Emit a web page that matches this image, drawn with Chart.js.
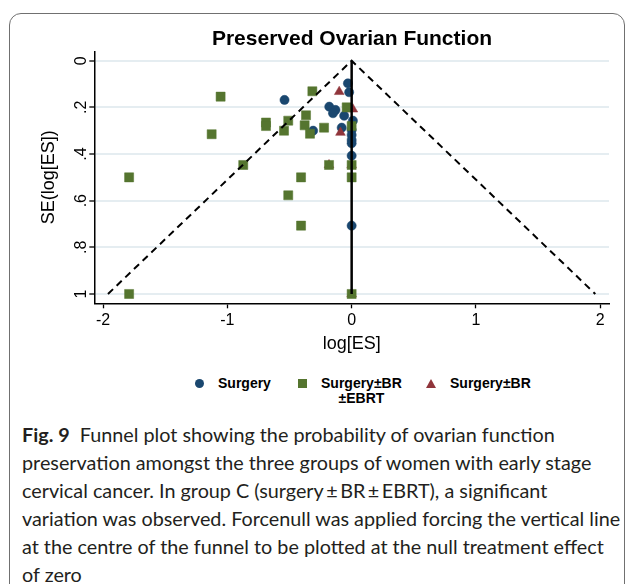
<!DOCTYPE html>
<html>
<head>
<meta charset="utf-8">
<script src="https://cdn.jsdelivr.net/npm/chart.js@4.4.1/dist/chart.umd.min.js"></script>
<style>
  html, body { margin: 0; padding: 0; background: #fff; }
  body { width: 629px; height: 584px; position: relative; overflow: hidden;
         font-family: "Liberation Sans", Arial, sans-serif; color: #000; }
  #frame { position: absolute; left: 9px; top: 13px; width: 614px; height: 640px;
           border: 1.5px solid #707070; border-radius: 12px; }
  #plotWrap { position: absolute; left: 0; top: 0; width: 629px; height: 365px; }
  #title { position: absolute; left: 152px; width: 400px; top: 26px; line-height: 24px;
           text-align: center; font-weight: bold; font-size: 21px; }
  .item { position: absolute; top: 376px; display: flex; align-items: flex-start;
          font-weight: bold; font-size: 14px; line-height: 15px; }
  .item .mk { width: 10px; height: 15px; margin-right: 14px; position: relative; }
  .item .lab { white-space: pre-line; text-align: center; }
  #caption { position: absolute; left: 22px; top: 420px; font-family: Lato, "Open Sans", sans-serif;
             font-size: 19.8px; line-height: 28px; color: #231f20; white-space: nowrap; }
  #caption b { font-weight: bold; }
</style>
</head>
<body>
<div id="frame"></div>
<div id="plotWrap"><canvas id="funnel"></canvas></div>
<div id="title">Preserved Ovarian Function</div>
<div id="legend"></div>
<div id="caption">
<b>Fig. 9</b>&nbsp; Funnel plot showing the probability of ovarian function<br>
preservation amongst the three groups of women with early stage<br>
cervical cancer. In group C (surgery&thinsp;±&thinsp;BR&thinsp;±&thinsp;EBRT), a significant<br>
variation was observed. Forcenull was applied forcing the vertical line<br>
at the centre of the funnel to be plotted at the null treatment effect<br>
of zero
</div>
<script>
// study estimates: log effect size and its standard error, per group
const surgeryES = [-0.54, -0.03, -0.02, -0.18, -0.13, -0.15, -0.06, 0.01, -0.08, -0.31,
                   0.00, 0.00, 0.00, 0.00, 0.00, 0.00];
const surgerySE = [0.168, 0.097, 0.135, 0.197, 0.211, 0.225, 0.236, 0.257, 0.287, 0.300,
                   0.297, 0.318, 0.340, 0.354, 0.407, 0.707];

const brEbrtES = [-1.054, -1.79, -1.126, -0.872, -0.689, -0.689, -0.544, -0.51, -0.316, -0.367,
                  -0.378, -0.335, -0.222, -0.04, 0.00, -0.182, 0.00, -0.407, 0.00, -0.51,
                  -0.407, -1.79, 0.00];
const brEbrtSE = [0.154, 0.50, 0.315, 0.447, 0.265, 0.28, 0.30, 0.257, 0.131, 0.234,
                  0.277, 0.313, 0.287, 0.20, 0.28, 0.447, 0.447, 0.50, 0.50, 0.577,
                  0.707, 1.0, 1.0];

const brES = [-0.10, 0.01, -0.09, -0.182, 0.00, 0.00];
const brSE = [0.133, 0.208, 0.308, 0.447, 0.447, 1.0];

// pseudo 95% limits around the null effect, and the null line itself
const funnelES = [-1.96, 0, 1.96];
const funnelSE = [1, 0, 1];
const nullES = [0, 0];
const nullSE = [0, 1];

const groupNames = ['Surgery', 'Surgery±BR\n±EBRT', 'Surgery±BR'];
const xTicks = [-2, -1, 0, 1, 2];
const yTicks = [0, 0.2, 0.4, 0.6, 0.8, 1];
const yTickLabels = ['0', '.2', '.4', '.6', '.8', '1'];

const NAVY = '#1a476f', GREEN = '#55752f', MAROON = '#90353b';

function pts(xs, ys) { return xs.map((x, i) => ({ x: x, y: ys[i] })); }

Chart.defaults.font.family = '"Liberation Sans", Arial, sans-serif';
Chart.defaults.color = '#000';

const ctx = document.getElementById('funnel').getContext('2d');
const chart = new Chart(ctx, {
  type: 'scatter',
  data: {
    datasets: [
      { label: 'limits', data: pts(funnelES, funnelSE), showLine: true, borderColor: '#000',
        borderWidth: 2, borderDash: [7, 5], pointRadius: 0, order: 0 },
      { label: 'null', data: pts(nullES, nullSE), showLine: true, borderColor: '#000',
        borderWidth: 2.5, pointRadius: 0, order: 0 },
      { label: groupNames[1], data: pts(brEbrtES, brEbrtSE), pointStyle: 'rect', pointRadius: 6.4,
        backgroundColor: GREEN, borderColor: GREEN, borderWidth: 0.5, order: 1 },
      { label: groupNames[2], data: pts(brES, brSE), pointStyle: 'triangle', pointRadius: 5.6,
        backgroundColor: MAROON, borderColor: MAROON, borderWidth: 0.5, order: 2 },
      { label: groupNames[0], data: pts(surgeryES, surgerySE), pointStyle: 'circle', pointRadius: 4.6,
        backgroundColor: NAVY, borderColor: NAVY, borderWidth: 0.5, order: 3 }
    ]
  },
  options: {
    responsive: true,
    maintainAspectRatio: false,
    animation: false,
    layout: { padding: { top: 51.4, right: 20, bottom: 0, left: 0 } },
    plugins: { legend: { display: false }, tooltip: { enabled: false } },
    scales: {
      x: {
        type: 'linear', min: -2.07, max: 2.07,
        afterBuildTicks: s => { s.ticks = xTicks.map(v => ({ value: v })); },
        afterFit: s => { s.height = 61.7; },
        ticks: { font: { size: 16 }, padding: 3, callback: (v, i) => String(xTicks[i]) },
        grid: { drawOnChartArea: false, tickLength: 5, tickColor: '#000', tickWidth: 1.3 },
        border: { color: '#000', width: 1.5 },
        title: { display: true, text: 'log[ES]', font: { size: 18 }, padding: { top: 0, bottom: 9.8 } }
      },
      y: {
        type: 'linear', reverse: true, min: -0.04, max: 1.04,
        afterBuildTicks: s => { s.ticks = yTicks.map(v => ({ value: v })); },
        afterFit: s => { s.width = 94.3; },
        ticks: { font: { size: 16 }, padding: 1, minRotation: 90, maxRotation: 90, crossAlign: 'center',
                 callback: (v, i) => yTickLabels[i] },
        grid: { color: '#e5edf1', lineWidth: 2, tickLength: 5, tickColor: '#000', tickWidth: 1.3 },
        border: { color: '#000', width: 1.5 },
        title: { display: true, text: 'SE(log[ES])', font: { size: 18 }, padding: { top: 37.8, bottom: 0 } }
      }
    }
  }
});

// legend under the plot, one entry per group
const legendLeft = [194, 297, 426];
const legendColors = [NAVY, GREEN, MAROON];
const legendShapes = ['circle', 'rect', 'triangle'];
const legend = document.getElementById('legend');
groupNames.forEach((name, i) => {
  const item = document.createElement('div');
  item.className = 'item';
  item.style.left = legendLeft[i] + 'px';
  const mk = document.createElement('div');
  mk.className = 'mk';
  const shape = document.createElement('div');
  shape.style.position = 'absolute';
  if (legendShapes[i] === 'circle') {
    Object.assign(shape.style, { left: '0.5px', top: '3px', width: '9px', height: '9px',
      borderRadius: '50%', background: legendColors[i] });
  } else if (legendShapes[i] === 'rect') {
    Object.assign(shape.style, { left: '0.5px', top: '3px', width: '9px', height: '9px',
      background: legendColors[i] });
  } else {
    Object.assign(shape.style, { left: '0px', top: '3px', width: '0', height: '0',
      borderLeft: '5px solid transparent', borderRight: '5px solid transparent',
      borderBottom: '9px solid ' + legendColors[i] });
  }
  mk.appendChild(shape);
  const lab = document.createElement('div');
  lab.className = 'lab';
  lab.textContent = name;
  item.appendChild(mk);
  item.appendChild(lab);
  legend.appendChild(item);
});
</script>
</body>
</html>
